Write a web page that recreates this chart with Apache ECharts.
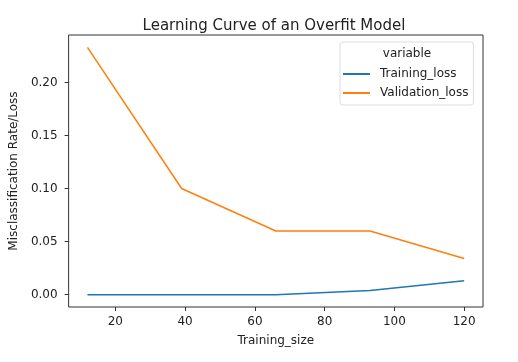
<!DOCTYPE html>
<html>
<head>
<meta charset="utf-8">
<script src="https://cdn.jsdelivr.net/npm/echarts@6/dist/echarts.min.js"></script>
<style>html,body{margin:0;padding:0;background:#fff}#c{width:518px;height:362px}</style>
</head>
<body>
<div id="c"></div>
<script>
const trainingSize = [12, 39, 66, 93, 120];
const trainingLoss = [0.0, 0.0, 0.0, 0.004, 0.013];
const validationLoss = [0.233, 0.100, 0.060, 0.060, 0.034];
const xTicks = [20, 40, 60, 80, 100, 120];
const yTicks = [0.00, 0.05, 0.10, 0.15, 0.20];

const font = 'DejaVu Sans';
const chart = echarts.init(document.getElementById('c'), null, {renderer: 'canvas'});
chart.setOption({
  animation: false,
  backgroundColor: '#fff',
  title: {
    text: 'Learning Curve of an Overfit Model',
    left: 269, top: 14, textAlign: 'center',
    textStyle: {fontFamily: font, fontSize: 15, fontWeight: 'normal', color: '#222'}
  },
  grid: {left: 67, right: 35, top: 35, bottom: 55, show: true, borderColor: '#333', borderWidth: 1, backgroundColor: 'transparent'},
  xAxis: {
    type: 'value', min: 6.6, max: 125.4,
    name: 'Training_size', nameLocation: 'middle', nameGap: 28,
    nameTextStyle: {fontFamily: font, fontSize: 12, color: '#222'},
    splitLine: {show: false},
    axisLine: {show: false, onZero: false},
    axisTick: {show: true, inside: false, customValues: xTicks, length: 4, lineStyle: {color: '#333'}},
    axisLabel: {customValues: xTicks, fontFamily: font, fontSize: 12, color: '#222', margin: 9, formatter: v => String(v)}
  },
  yAxis: {
    type: 'value', min: -0.01165, max: 0.24465,
    name: 'Misclassification Rate/Loss', nameLocation: 'middle', nameGap: 44,
    nameTextStyle: {fontFamily: font, fontSize: 12, color: '#222'},
    splitLine: {show: false},
    axisLine: {show: false, onZero: false},
    axisTick: {show: true, inside: false, customValues: yTicks, length: 4, lineStyle: {color: '#333'}},
    axisLabel: {customValues: yTicks, fontFamily: font, fontSize: 12, color: '#222', margin: 11, formatter: v => v.toFixed(2)}
  },
  legend: {
    orient: 'vertical', left: 340, top: 42,
    padding: [26, 5, 6, 3], itemGap: 7,
    borderColor: '#ddd', borderWidth: 1, borderRadius: 3,
    backgroundColor: '#fff',
    icon: 'rect', itemWidth: 27, itemHeight: 2,
    textStyle: {fontFamily: font, fontSize: 12, color: '#222', padding: [0, 0, 0, 5]},
    data: ['Training_loss', 'Validation_loss']
  },
  graphic: [{
    type: 'text', x: 407, y: 48, z: 100,
    style: {text: 'variable', font: '12px "DejaVu Sans"', fill: '#222', textAlign: 'center'}
  }],
  series: [
    {name: 'Training_loss', type: 'line', showSymbol: false, symbol: 'none',
     data: trainingSize.map((x, i) => [x, trainingLoss[i]]),
     lineStyle: {color: '#1f77b4', width: 1.5}, itemStyle: {color: '#1f77b4'}},
    {name: 'Validation_loss', type: 'line', showSymbol: false, symbol: 'none',
     data: trainingSize.map((x, i) => [x, validationLoss[i]]),
     lineStyle: {color: '#ff7f0e', width: 1.5}, itemStyle: {color: '#ff7f0e'}}
  ]
});
</script>
</body>
</html>
